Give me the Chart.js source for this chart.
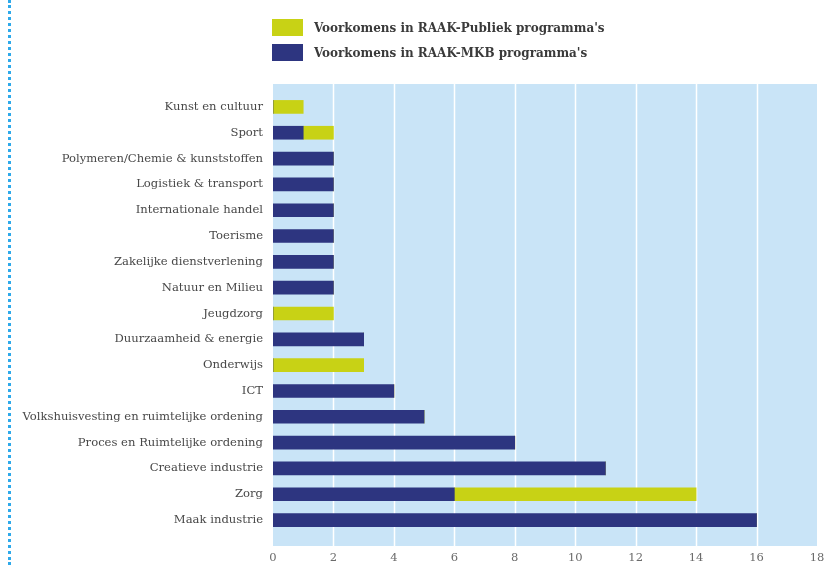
<!DOCTYPE html>
<html>
<head>
<meta charset="utf-8">
<script src="https://cdn.jsdelivr.net/npm/chart.js@4/dist/chart.umd.min.js"></script>
<style>
  html, body { margin: 0; padding: 0; background: #fff; }
  #wrap { position: relative; width: 827px; height: 565px; overflow: hidden; }
  #stippel { position: absolute; left: 8px; top: 0; height: 565px; border-left: 3px dotted #2ea9ea; }
  #legenda { position: absolute; left: 272px; top: 19px; font-family: "DejaVu Serif Condensed", "DejaVu Serif", serif; font-weight: bold; font-size: 13.3px; color: #3a3a3a; }
  .item { display: flex; align-items: center; height: 17px; margin-bottom: 8px; }
  .vak { width: 31px; height: 17px; margin-right: 11px; }
</style>
</head>
<body>
<div id="wrap">
  <div id="stippel"></div>
  <div id="legenda"></div>
  <canvas id="grafiek" width="827" height="565"></canvas>
</div>
<script>
const categorieen = [
  'Kunst en cultuur', 'Sport', 'Polymeren/Chemie & kunststoffen', 'Logistiek & transport',
  'Internationale handel', 'Toerisme', 'Zakelijke dienstverlening', 'Natuur en Milieu',
  'Jeugdzorg', 'Duurzaamheid & energie', 'Onderwijs', 'ICT',
  'Volkshuisvesting en ruimtelijke ordening', 'Proces en Ruimtelijke ordening',
  'Creatieve industrie', 'Zorg', 'Maak industrie'
];
const mkbWaarden =     [0, 1, 2, 2, 2, 2, 2, 2, 0, 3, 0, 4, 5, 8, 11, 6, 16];
const publiekWaarden = [1, 1, 0, 0, 0, 0, 0, 0, 2, 0, 3, 0, 0, 0, 0, 8, 0];
const xMax = 18;
const xStap = 2;

const kleurPubliek = '#c8d215';
const kleurMkb = '#2d3580';
const achtergrond = '#c9e4f7';

// legenda (volgorde zoals in het origineel)
const legendaItems = [
  { label: "Voorkomens in RAAK-Publiek programma's", kleur: kleurPubliek },
  { label: "Voorkomens in RAAK-MKB programma's", kleur: kleurMkb }
];
const legendaUI = document.getElementById('legenda');
legendaItems.forEach(item => {
  const div = document.createElement('div');
  div.className = 'item';
  div.innerHTML = `<span class="vak" style="background:${item.kleur}"></span><span>${item.label}</span>`;
  legendaUI.appendChild(div);
});

// achtergrondvlak en witte rasterlijnen, iets ruimer dan de chartArea
const vlakPlugin = {
  id: 'vlak',
  beforeDatasetsDraw(chart) {
    const { ctx, chartArea, scales } = chart;
    const top = chartArea.top - 10;
    const bottom = chartArea.bottom + 13;
    ctx.save();
    ctx.fillStyle = achtergrond;
    ctx.fillRect(chartArea.left, top, chartArea.right - chartArea.left, bottom - top);
    ctx.strokeStyle = '#ffffff';
    ctx.lineWidth = 1.5;
    scales.x.ticks.forEach(t => {
      if (t.value === 0 || t.value === xMax) return;
      const x = Math.round(scales.x.getPixelForValue(t.value)) + 0.5;
      ctx.beginPath();
      ctx.moveTo(x, top);
      ctx.lineTo(x, bottom);
      ctx.stroke();
    });
    ctx.restore();
  }
};

new Chart(document.getElementById('grafiek'), {
  type: 'bar',
  data: {
    labels: categorieen,
    datasets: [
      { label: "Voorkomens in RAAK-MKB programma's", data: mkbWaarden, backgroundColor: kleurMkb, barThickness: 13 },
      { label: "Voorkomens in RAAK-Publiek programma's", data: publiekWaarden, backgroundColor: kleurPubliek, barThickness: 13 }
    ]
  },
  options: {
    indexAxis: 'y',
    responsive: false,
    animation: false,
    layout: { padding: { top: 94, right: 10, bottom: 0, left: 0 } },
    plugins: { legend: { display: false }, tooltip: { enabled: false } },
    scales: {
      x: {
        stacked: true,
        min: 0,
        max: xMax,
        grid: { display: false, drawTicks: false },
        border: { display: false },
        ticks: {
          stepSize: xStap,
          padding: 18,
          color: '#6a6a6a',
          font: { family: 'DejaVu Serif', size: 11.5 }
        },
        afterFit(scale) {
          scale.height = 32;
          scale.paddingRight = 0;
        }
      },
      y: {
        stacked: true,
        grid: { display: false, drawTicks: false },
        border: { display: false },
        ticks: {
          padding: 10,
          color: '#474747',
          font: { family: 'DejaVu Serif', size: 11.6 }
        },
        afterFit(scale) { scale.width = 273; }
      }
    }
  },
  plugins: [vlakPlugin]
});
</script>
</body>
</html>
